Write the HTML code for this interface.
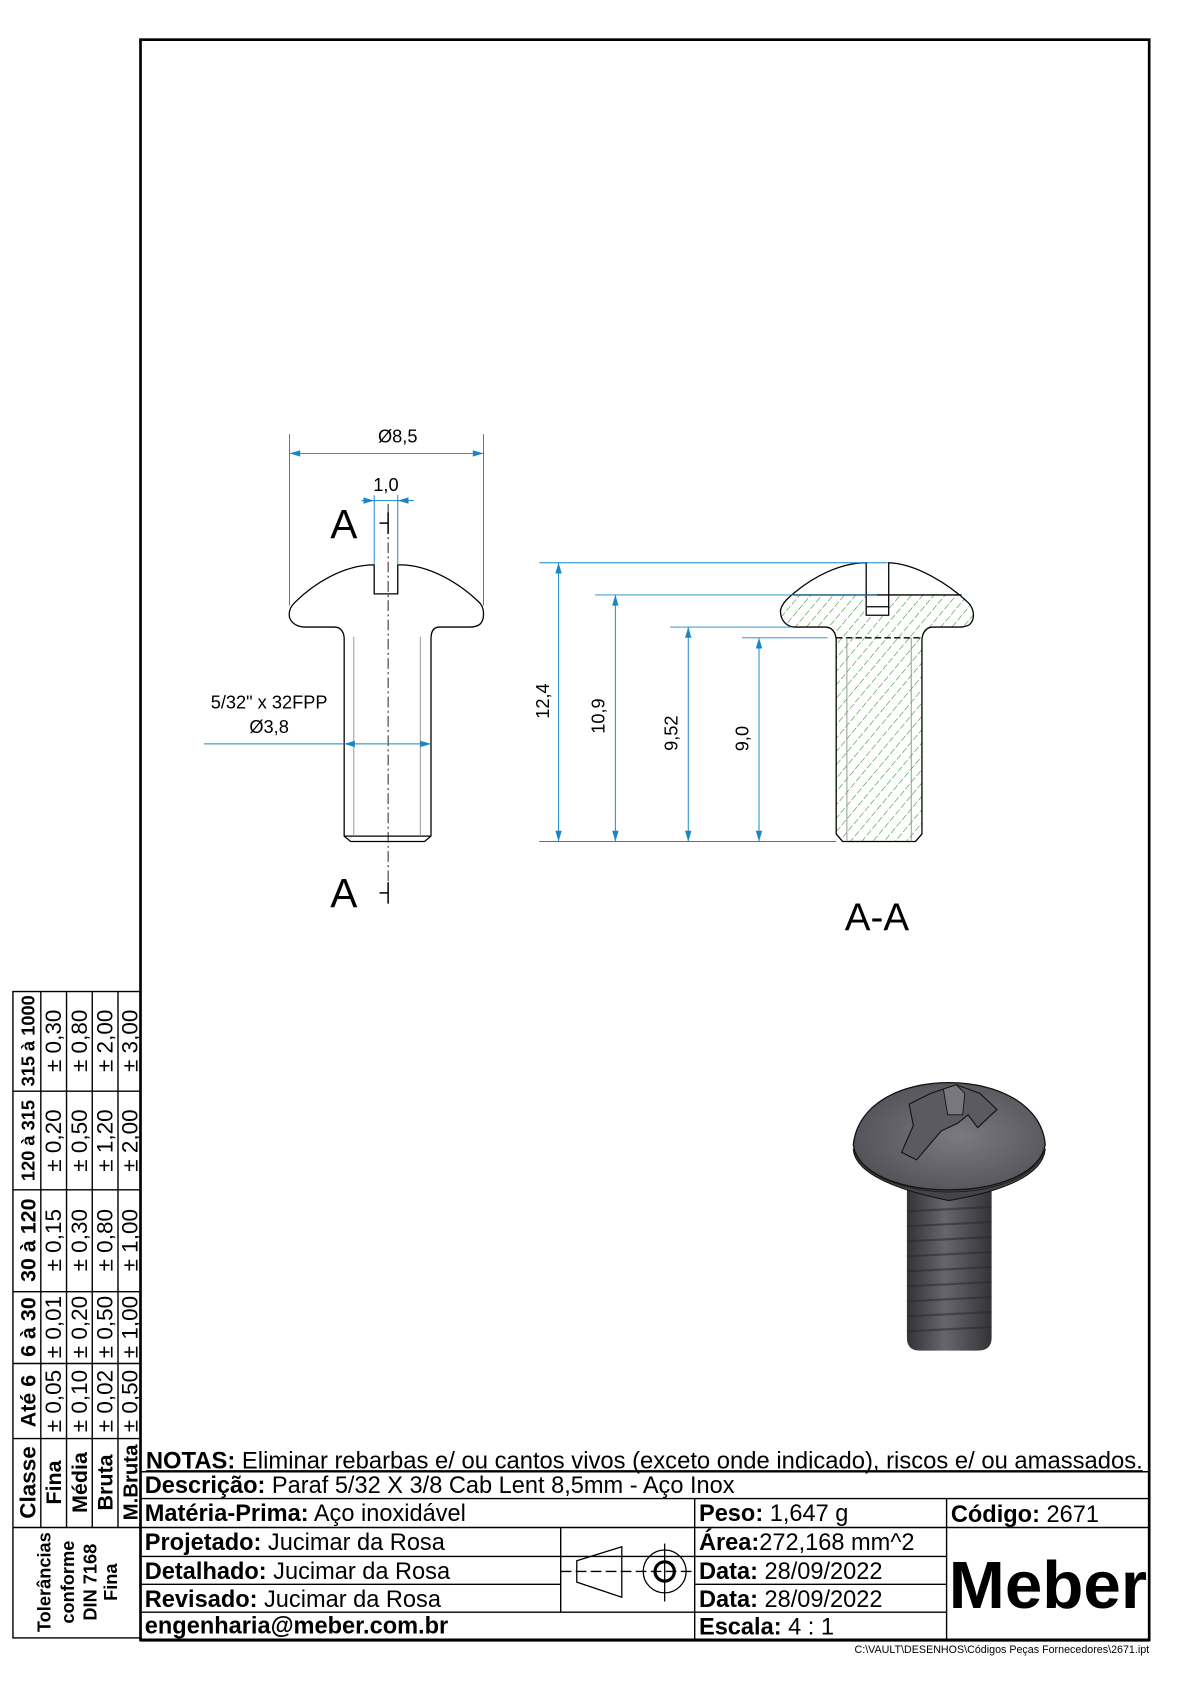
<!DOCTYPE html>
<html><head><meta charset="utf-8"><style>
html,body{margin:0;padding:0;background:#fff;}
svg{display:block;}
text{font-family:"Liberation Sans",Arial,sans-serif;}
</style></head><body>
<svg width="1190" height="1684" viewBox="0 0 1110 1571" xmlns="http://www.w3.org/2000/svg">
<defs>
<pattern id="h" patternUnits="userSpaceOnUse" width="8" height="8" patternTransform="rotate(40)">
<line x1="0" y1="0" x2="0" y2="8" stroke="#1f8f1f" stroke-width="1" stroke-dasharray="5,2"/>
</pattern>
<linearGradient id="sg" x1="0" x2="1" y1="0" y2="0">
<stop offset="0" stop-color="#333338"/><stop offset="0.45" stop-color="#66666c"/><stop offset="1" stop-color="#333338"/>
</linearGradient>
<radialGradient id="hg" cx="0.55" cy="0.5" r="0.6">
<stop offset="0" stop-color="#7a7a80"/><stop offset="1" stop-color="#505056"/>
</radialGradient>
<clipPath id="secclip">
<path d="M728,570 C728,562 735,555 740,555 L897,555 C903,560 909,566 909,572 C909,580 903,585 895,585 L875,585 C866,585 860,590 860,598 L860,778 L854,785 L786,785 L780,778 L780,598 C780,590 774,585 765,585 L742,585 C734,585 728,579 728,570 Z"/>
</clipPath>
</defs>
<rect x="0" y="0" width="1110" height="1571" fill="#fff"/>
<rect x="131" y="37" width="941" height="1493" fill="none" stroke="#000" stroke-width="2.5"/>

<!-- LEFT VIEW -->
<g fill="none" stroke="#000" stroke-width="1.2">
<path d="M349,527 L349,554 L371,554 L371,527 C400,526 430,545 448,563 C452,568 452,578 448,582 C445,585 440,585 437,585 L410,585 C404,585 402,590 402,596 L402,780 L396,785 L327,785 L321,780 L321,596 C321,590 318,585 312,585 L285,585 C278,585 272,582 270,576 C269,570 271,566 275,562 C292,545 320,527 349,527 Z"/>
<line x1="321" y1="780" x2="402" y2="780"/>
</g>
<g stroke="#888" stroke-width="0.8"><line x1="330" y1="594" x2="330" y2="780"/><line x1="392" y1="594" x2="392" y2="780"/></g>
<line x1="362" y1="470" x2="362" y2="840" stroke="#000" stroke-width="0.8" stroke-dasharray="10,3,2,3"/>
<g stroke="#000" stroke-width="1.4"><line x1="354" y1="488" x2="362" y2="488"/><line x1="362" y1="478" x2="362" y2="498"/>
<line x1="354" y1="833" x2="362" y2="833"/><line x1="362" y1="823" x2="362" y2="843"/></g>
<text x="308" y="502" font-size="38">A</text>
<text x="308" y="846" font-size="38">A</text>
<g stroke="#1a86c8" stroke-width="0.9" fill="none">
<line x1="270" y1="405" x2="270" y2="565"/><line x1="451" y1="405" x2="451" y2="565"/>
<line x1="270" y1="423" x2="451" y2="423"/>
<line x1="349" y1="462" x2="349" y2="527"/><line x1="371" y1="462" x2="371" y2="527"/>
<line x1="337" y1="467" x2="386" y2="467"/>
<line x1="190" y1="694" x2="402" y2="694"/>
</g>
<g fill="#1a86c8">
<path d="M270,423 l10,-3 v6z"/><path d="M451,423 l-10,-3 v6z"/>
<path d="M349,467 l-10,-3 v6z"/><path d="M371,467 l10,-3 v6z"/>
<path d="M321,694 l10,-3 v6z"/><path d="M402,694 l-10,-3 v6z"/>
</g>
<g font-size="17" fill="#000" text-anchor="middle">
<text x="371" y="413">Ø8,5</text>
<text x="360" y="458">1,0</text>
<text x="251" y="661">5/32" x 32FPP</text>
<text x="251" y="684">Ø3,8</text>
</g>

<!-- SECTION VIEW -->
<rect x="720" y="550" width="200" height="240" fill="url(#h)" clip-path="url(#secclip)"/>
<rect x="808" y="555" width="21" height="19" fill="#fff"/>
<g fill="none" stroke="#000" stroke-width="1.2">
<path d="M808,525 L808,574 L829,574 L829,525 C855,526 885,545 903,562 C909,568 910,578 904,583 C900,585 897,585 893,585 L870,585 C864,585 860,590 860,598 L860,778 L854,785 L786,785 L780,778 L780,598 C780,590 776,585 770,585 L742,585 C734,585 728,579 728,570 C729,563 735,558 741,553 C760,537 785,525 808,525 Z"/>
<line x1="740" y1="555" x2="897" y2="555"/>
<line x1="808" y1="566" x2="829" y2="566"/>
<line x1="780" y1="595" x2="860" y2="595" stroke-dasharray="6,3"/>
</g>
<g stroke="#888" stroke-width="0.8"><line x1="790" y1="595" x2="790" y2="785"/><line x1="850" y1="595" x2="850" y2="785"/></g>
<g stroke="#1a86c8" stroke-width="0.9" fill="none">
<line x1="503" y1="525" x2="828" y2="525"/>
<line x1="555" y1="555" x2="818" y2="555"/>
<line x1="625" y1="585" x2="738" y2="585"/>
<line x1="692" y1="595" x2="772" y2="595"/>
<line x1="503" y1="785" x2="780" y2="785"/>
<line x1="521" y1="525" x2="521" y2="785"/>
<line x1="574" y1="555" x2="574" y2="785"/>
<line x1="642" y1="585" x2="642" y2="785"/>
<line x1="708" y1="595" x2="708" y2="785"/>
</g>
<g fill="#1a86c8">
<path d="M521,525 l-3,10 h6z"/><path d="M521,785 l-3,-10 h6z"/>
<path d="M574,555 l-3,10 h6z"/><path d="M574,785 l-3,-10 h6z"/>
<path d="M642,585 l-3,10 h6z"/><path d="M642,785 l-3,-10 h6z"/>
<path d="M708,595 l-3,10 h6z"/><path d="M708,785 l-3,-10 h6z"/>
</g>
<g font-size="17" fill="#000" text-anchor="middle">
<text transform="translate(512,654) rotate(-90)">12,4</text>
<text transform="translate(564,668) rotate(-90)">10,9</text>
<text transform="translate(632,684) rotate(-90)">9,52</text>
<text transform="translate(698,689) rotate(-90)">9,0</text>
</g>
<text x="788" y="868" font-size="36">A-A</text>

<!-- 3D screw -->
<g>
<path d="M846,1110 L925,1110 L925,1248 Q925,1260 912,1260 L858,1260 Q846,1260 846,1248 Z" fill="url(#sg)"/>
<g stroke="#2a2a2e" stroke-width="2" opacity="0.55">
<line x1="846" y1="1130" x2="925" y2="1126"/><line x1="846" y1="1144" x2="925" y2="1140"/>
<line x1="846" y1="1158" x2="925" y2="1154"/><line x1="846" y1="1172" x2="925" y2="1168"/>
<line x1="846" y1="1186" x2="925" y2="1182"/><line x1="846" y1="1200" x2="925" y2="1196"/>
<line x1="846" y1="1214" x2="925" y2="1210"/><line x1="846" y1="1228" x2="925" y2="1224"/>
<line x1="846" y1="1242" x2="925" y2="1238"/>
</g>
<path d="M796,1072 Q798,1102 885,1120 Q972,1105 975,1072 Z" fill="#444449" stroke="#111" stroke-width="1"/>
<path d="M796,1068 C800,1030 840,1010 885,1010 C930,1010 972,1030 975,1068 C970,1095 930,1110 885,1110 C840,1110 800,1095 796,1068 Z" fill="url(#hg)" stroke="#111" stroke-width="1.2"/>
<path d="M796,1072 C805,1100 850,1112 885,1112 C925,1112 965,1100 975,1072" fill="none" stroke="#222" stroke-width="1"/>
<path d="M848,1030 L868,1020 L892,1012 L914,1020 L930,1035 L912,1052 L903,1040 L893,1048 L878,1055 L855,1082 L841,1075 L852,1050 Z" fill="#5a5a60" stroke="#111" stroke-width="1"/>
<path d="M880,1016 L892,1012 L900,1020 L898,1040 L884,1040 Z" fill="#77777d" stroke="#111" stroke-width="0.8"/>
</g>

<!-- Tolerance table -->
<g fill="none" stroke="#000" stroke-width="1.3">
<rect x="12" y="925" width="119" height="603"/>
<line x1="38" y1="925" x2="38" y2="1425"/>
<line x1="62" y1="925" x2="62" y2="1425"/>
<line x1="86" y1="925" x2="86" y2="1425"/>
<line x1="110" y1="925" x2="110" y2="1425"/>
<line x1="12" y1="1018" x2="131" y2="1018"/>
<line x1="12" y1="1110" x2="131" y2="1110"/>
<line x1="12" y1="1205" x2="131" y2="1205"/>
<line x1="12" y1="1272" x2="131" y2="1272"/>
<line x1="12" y1="1342" x2="131" y2="1342"/>
<line x1="12" y1="1425" x2="131" y2="1425"/>
</g>
<g fill="#000" text-anchor="middle" font-size="21">
<g font-weight="bold">
<text transform="translate(32,971) rotate(-90)" font-size="17">315 à 1000</text>
<text transform="translate(32,1064) rotate(-90)" font-size="17">120 à 315</text>
<text transform="translate(33,1157) rotate(-90)" font-size="20">30 à 120</text>
<text transform="translate(33,1238) rotate(-90)" font-size="20">6 à 30</text>
<text transform="translate(33,1307) rotate(-90)" font-size="20">Até 6</text>
<text transform="translate(33,1383) rotate(-90)" font-size="21">Classe</text>
<text transform="translate(57,1383) rotate(-90)" font-size="20">Fina</text>
<text transform="translate(81,1383) rotate(-90)" font-size="20">Média</text>
<text transform="translate(105,1383) rotate(-90)" font-size="20">Bruta</text>
<text transform="translate(128,1383) rotate(-90)" font-size="19">M.Bruta</text>
<text transform="translate(47,1476) rotate(-90)" font-size="17">Tolerâncias</text>
<text transform="translate(69,1476) rotate(-90)" font-size="17">conforme</text>
<text transform="translate(90,1476) rotate(-90)" font-size="17">DIN 7168</text>
<text transform="translate(109,1476) rotate(-90)" font-size="17">Fina</text>
</g>
<g>
<text transform="translate(57,971) rotate(-90)">± 0,30</text><text transform="translate(57,1064) rotate(-90)">± 0,20</text><text transform="translate(57,1157) rotate(-90)">± 0,15</text><text transform="translate(57,1238) rotate(-90)">± 0,01</text><text transform="translate(57,1307) rotate(-90)">± 0,05</text>
<text transform="translate(81,971) rotate(-90)">± 0,80</text><text transform="translate(81,1064) rotate(-90)">± 0,50</text><text transform="translate(81,1157) rotate(-90)">± 0,30</text><text transform="translate(81,1238) rotate(-90)">± 0,20</text><text transform="translate(81,1307) rotate(-90)">± 0,10</text>
<text transform="translate(105,971) rotate(-90)">± 2,00</text><text transform="translate(105,1064) rotate(-90)">± 1,20</text><text transform="translate(105,1157) rotate(-90)">± 0,80</text><text transform="translate(105,1238) rotate(-90)">± 0,50</text><text transform="translate(105,1307) rotate(-90)">± 0,02</text>
<text transform="translate(128,971) rotate(-90)">± 3,00</text><text transform="translate(128,1064) rotate(-90)">± 2,00</text><text transform="translate(128,1157) rotate(-90)">± 1,00</text><text transform="translate(128,1238) rotate(-90)">± 1,00</text><text transform="translate(128,1307) rotate(-90)">± 0,50</text>
</g>
</g>

<!-- Title block -->
<g fill="none" stroke="#000" stroke-width="1.3">
<line x1="131" y1="1373" x2="1072" y2="1373"/>
<line x1="131" y1="1398" x2="1072" y2="1398"/>
<line x1="131" y1="1425" x2="1072" y2="1425"/>
<line x1="131" y1="1452" x2="883" y2="1452"/>
<line x1="131" y1="1478" x2="523" y2="1478"/>
<line x1="648" y1="1478" x2="883" y2="1478"/>
<line x1="131" y1="1504" x2="883" y2="1504"/>
<line x1="523" y1="1425" x2="523" y2="1504"/>
<line x1="648" y1="1398" x2="648" y2="1530"/>
<line x1="883" y1="1398" x2="883" y2="1530"/>
</g>
<line x1="131" y1="1530" x2="1072" y2="1530" stroke="#000" stroke-width="3"/>
<g font-size="22" fill="#000">
<text x="136" y="1370" textLength="930" lengthAdjust="spacingAndGlyphs"><tspan font-weight="bold">NOTAS:</tspan> Eliminar rebarbas e/ ou cantos vivos (exceto onde indicado), riscos e/ ou amassados.</text>
<line x1="136" y1="1372" x2="1066" y2="1372" stroke="#000" stroke-width="1"/>
<text x="135" y="1393"><tspan font-weight="bold">Descrição:</tspan> Paraf 5/32 X 3/8 Cab Lent 8,5mm - Aço Inox</text>
<text x="135" y="1419"><tspan font-weight="bold">Matéria-Prima:</tspan> Aço inoxidável</text>
<text x="135" y="1446"><tspan font-weight="bold">Projetado:</tspan> Jucimar da Rosa</text>
<text x="135" y="1473"><tspan font-weight="bold">Detalhado:</tspan> Jucimar da Rosa</text>
<text x="135" y="1499"><tspan font-weight="bold">Revisado:</tspan> Jucimar da Rosa</text>
<text x="135" y="1524" font-weight="bold">engenharia@meber.com.br</text>
<text x="652" y="1419"><tspan font-weight="bold">Peso:</tspan> 1,647 g</text>
<text x="652" y="1446"><tspan font-weight="bold">Área:</tspan>272,168 mm^2</text>
<text x="652" y="1473"><tspan font-weight="bold">Data:</tspan> 28/09/2022</text>
<text x="652" y="1499"><tspan font-weight="bold">Data:</tspan> 28/09/2022</text>
<text x="652" y="1525"><tspan font-weight="bold">Escala:</tspan> 4 : 1</text>
<text x="887" y="1420"><tspan font-weight="bold">Código:</tspan> 2671</text>
</g>
<text x="885" y="1500" font-size="62" font-weight="bold" fill="#000" textLength="185" lengthAdjust="spacingAndGlyphs">Meber</text>
<text x="1072" y="1542" font-size="10" fill="#000" text-anchor="end">C:\VAULT\DESENHOS\Códigos Peças Fornecedores\2671.ipt</text>
<g fill="none" stroke="#000" stroke-width="1.2">
<path d="M538,1456 L580,1443 L580,1490 L538,1476 Z"/>
<line x1="523" y1="1466" x2="648" y2="1466" stroke-dasharray="10,4"/>
<circle cx="620" cy="1466" r="20"/>
<circle cx="620" cy="1466" r="9" stroke-width="3"/>
<line x1="620" y1="1440" x2="620" y2="1494"/>
</g>
</svg>
</body></html>
